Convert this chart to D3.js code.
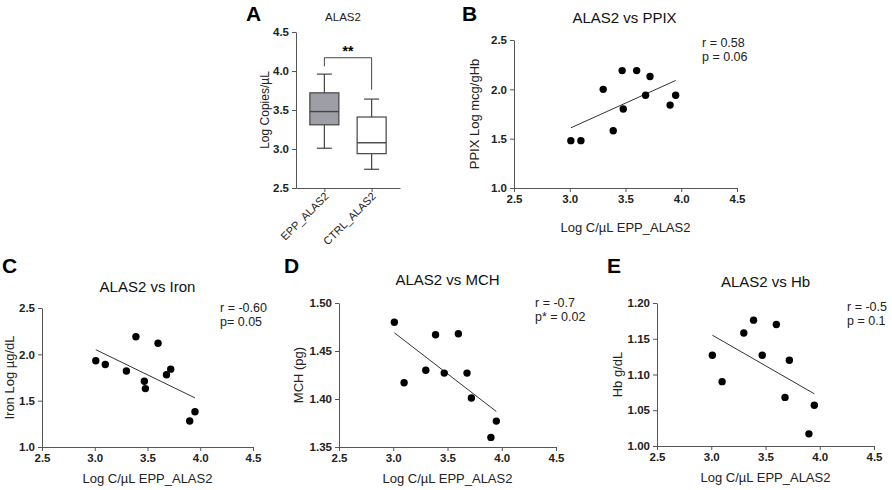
<!DOCTYPE html>
<html>
<head>
<meta charset="utf-8">
<script src="https://cdn.jsdelivr.net/npm/d3@7"></script>
<style>
  body { margin: 0; background: #fff; }
  svg { font-family: "Liberation Sans", Arial, sans-serif; }
  .tick text { font-weight: bold; font-size: 11.5px; fill: #222; }
  .domain, .tick line { stroke: #555; }
</style>
</head>
<body>
<svg id="fig" width="892" height="490"></svg>
<script>
// ---- data ----
var boxGroups = ["EPP_ALAS2", "CTRL_ALAS2"];
var boxMin = [3.01, 2.74];
var boxQ1 = [3.31, 2.94];
var boxMed = [3.48, 3.08];
var boxQ3 = [3.72, 3.41];
var boxMax = [3.96, 3.64];
var boxYTicks = [2.5, 3.0, 3.5, 4.0, 4.5];

var xTicks = [2.5, 3.0, 3.5, 4.0, 4.5];

var ppixX = [3.01, 3.10, 3.30, 3.39, 3.47, 3.48, 3.60, 3.68, 3.72, 3.90, 3.95];
var ppixY = [1.48, 1.48, 2.00, 1.58, 2.19, 1.80, 2.19, 1.94, 2.13, 1.84, 1.94];
var ppixFit = [1.61, 2.09];

var ironX = [3.01, 3.10, 3.30, 3.39, 3.47, 3.48, 3.60, 3.68, 3.72, 3.90, 3.95];
var ironY = [1.93, 1.89, 1.82, 2.19, 1.71, 1.63, 2.12, 1.78, 1.84, 1.28, 1.38];
var ironFit = [2.05, 1.53];

var mchX = [3.01, 3.10, 3.30, 3.39, 3.47, 3.60, 3.68, 3.72, 3.90, 3.95];
var mchY = [1.480, 1.417, 1.430, 1.467, 1.427, 1.468, 1.427, 1.401, 1.360, 1.377];
var mchFit = [1.469, 1.387];

var hbX = [3.01, 3.10, 3.30, 3.39, 3.47, 3.60, 3.68, 3.72, 3.90, 3.95];
var hbY = [1.127, 1.090, 1.158, 1.176, 1.127, 1.170, 1.068, 1.120, 1.017, 1.057];
var hbFit = [1.155, 1.073];

var fitX = [3.01, 3.95];

var svg = d3.select("#fig");

function panelLetter(t, x, y){
    svg.append("text").attr("x", x).attr("y", y)
        .attr("font-size", 21).attr("font-weight", "bold").attr("fill", "#000")
        .text(t);
}

// ---- panel A: box plot ----
(function(){
    var x0 = 296, x1 = 400, y0 = 32, y1 = 188;
    var y = d3.scaleLinear().domain([2.5, 4.5]).range([y1, y0]);
    var x = d3.scalePoint().domain(boxGroups).range([x0, x1]).padding(0.6);
    var g = svg.append("g");

    g.append("g").attr("transform", "translate(" + x0 + ",0)")
        .call(d3.axisLeft(y).tickValues(boxYTicks).tickFormat(d3.format(".1f")).tickSize(4).tickSizeOuter(0));
    g.append("g").attr("transform", "translate(0," + y1 + ")")
        .call(d3.axisBottom(x).tickSize(4).tickSizeOuter(0).tickFormat(""));

    boxGroups.forEach(function(name, i){
        var cx = x(name), bw = 29, cw = 15;
        var col = "#444";
        g.append("line").attr("x1", cx).attr("x2", cx).attr("y1", y(boxMax[i])).attr("y2", y(boxMin[i]))
            .attr("stroke", col).attr("stroke-width", 1.2);
        g.append("rect").attr("x", cx - bw/2).attr("width", bw)
            .attr("y", y(boxQ3[i])).attr("height", y(boxQ1[i]) - y(boxQ3[i]))
            .attr("fill", i == 0 ? "#9e9ea6" : "#fff").attr("stroke", col).attr("stroke-width", 1.2);
        g.append("line").attr("x1", cx - bw/2).attr("x2", cx + bw/2).attr("y1", y(boxMed[i])).attr("y2", y(boxMed[i]))
            .attr("stroke", col).attr("stroke-width", 1.4);
        [boxMax[i], boxMin[i]].forEach(function(v){
            g.append("line").attr("x1", cx - cw/2).attr("x2", cx + cw/2).attr("y1", y(v)).attr("y2", y(v))
                .attr("stroke", col).attr("stroke-width", 1.2);
        });
        g.append("text")
            .attr("transform", "translate(" + (cx + 5) + "," + (y1 + 9) + ") rotate(-45)")
            .attr("text-anchor", "end").attr("font-size", 11).attr("fill", "#222")
            .text(name);
    });

    // significance bracket
    var bx1 = x(boxGroups[0]), bx2 = x(boxGroups[1]);
    g.append("path")
        .attr("d", "M" + bx1 + "," + y(4.06) + "V" + y(4.17) + "H" + bx2 + "V" + y(3.76))
        .attr("fill", "none").attr("stroke", "#444").attr("stroke-width", 1);
    g.append("text").attr("x", (bx1 + bx2) / 2).attr("y", y(4.17) - 2)
        .attr("text-anchor", "middle").attr("font-size", 14).attr("font-weight", "bold").text("**");

    g.append("text").attr("x", 343).attr("y", 21).attr("text-anchor", "middle")
        .attr("font-size", 11.5).attr("fill", "#222").text("ALAS2");
    g.append("text").attr("transform", "translate(269," + ((y0 + y1) / 2) + ") rotate(-90)")
        .attr("text-anchor", "middle").attr("font-size", 12).attr("fill", "#222").text("Log Copies/µL");
    panelLetter("A", 246, 21);
})();

// ---- scatter panels ----
function scatter(o){
    var x = d3.scaleLinear().domain([2.5, 4.5]).range([o.x0, o.x1]);
    var y = d3.scaleLinear().domain(o.yDom).range([o.y1, o.y0]);
    var g = svg.append("g");

    g.append("g").attr("transform", "translate(" + o.x0 + ",0)")
        .call(d3.axisLeft(y).tickValues(o.yTicks).tickFormat(d3.format(o.fmt)).tickSize(4).tickSizeOuter(0));
    g.append("g").attr("transform", "translate(0," + o.y1 + ")")
        .call(d3.axisBottom(x).tickValues(xTicks).tickFormat(d3.format(".1f")).tickSize(4).tickSizeOuter(0));

    g.append("line")
        .attr("x1", x(fitX[0])).attr("y1", y(o.fit[0]))
        .attr("x2", x(fitX[1])).attr("y2", y(o.fit[1]))
        .attr("stroke", "#333").attr("stroke-width", 1);

    g.selectAll("circle.pt").data(o.xs).enter().append("circle")
        .attr("class", "pt")
        .attr("cx", function(d){ return x(d); })
        .attr("cy", function(d, i){ return y(o.ys[i]); })
        .attr("r", 3.7).attr("fill", "#000");

    g.append("text").attr("x", (o.x0 + o.x1) / 2 + o.titleDx).attr("y", o.ty)
        .attr("text-anchor", "middle").attr("font-size", 15).attr("fill", "#111").text(o.title);
    g.append("text").attr("x", (o.x0 + o.x1) / 2).attr("y", o.y1 + o.xlDy)
        .attr("text-anchor", "middle").attr("font-size", 13).attr("fill", "#222").text("Log C/µL EPP_ALAS2");
    g.append("text").attr("transform", "translate(" + o.ylx + "," + ((o.y0 + o.y1) / 2) + ") rotate(-90)")
        .attr("text-anchor", "middle").attr("font-size", 13).attr("fill", "#222").text(o.ylab);

    o.stats.forEach(function(s, i){
        g.append("text").attr("x", o.sx).attr("y", o.sy + i * 14)
            .attr("font-size", 12.5).attr("fill", "#222").text(s);
    });
    panelLetter(o.letter, o.lx, o.ly);
}

scatter({letter: "B", lx: 462, ly: 21, x0: 514, x1: 737, y0: 40, y1: 188,
    yDom: [1.0, 2.5], yTicks: [1.0, 1.5, 2.0, 2.5], fmt: ".1f",
    xs: ppixX, ys: ppixY, fit: ppixFit, title: "ALAS2 vs PPIX", titleDx: -1, ty: 23, xlDy: 44,
    ylab: "PPIX Log mcg/gHb", ylx: 479, sx: 702, sy: 47, stats: ["r = 0.58", "p = 0.06"]});

scatter({letter: "C", lx: 2, ly: 273, x0: 42, x1: 253, y0: 308, y1: 447,
    yDom: [1.0, 2.5], yTicks: [1.0, 1.5, 2.0, 2.5], fmt: ".1f",
    xs: ironX, ys: ironY, fit: ironFit, title: "ALAS2 vs Iron", titleDx: 0, ty: 292, xlDy: 36,
    ylab: "Iron Log µg/dL", ylx: 14, sx: 220, sy: 312, stats: ["r = -0.60", "p= 0.05"]});

scatter({letter: "D", lx: 284, ly: 273, x0: 339, x1: 556, y0: 303, y1: 447,
    yDom: [1.35, 1.50], yTicks: [1.35, 1.40, 1.45, 1.50], fmt: ".2f",
    xs: mchX, ys: mchY, fit: mchFit, title: "ALAS2 vs MCH", titleDx: 0, ty: 285, xlDy: 36,
    ylab: "MCH (pg)", ylx: 303, sx: 535, sy: 307, stats: ["r = -0.7", "p* = 0.02"]});

scatter({letter: "E", lx: 607, ly: 273, x0: 657, x1: 874, y0: 303, y1: 446,
    yDom: [1.00, 1.20], yTicks: [1.00, 1.05, 1.10, 1.15, 1.20], fmt: ".2f",
    xs: hbX, ys: hbY, fit: hbFit, title: "ALAS2 vs Hb", titleDx: 0, ty: 287, xlDy: 36,
    ylab: "Hb g/dL", ylx: 622, sx: 847, sy: 311, stats: ["r = -0.5", "p = 0.1"]});
</script>
</body>
</html>
